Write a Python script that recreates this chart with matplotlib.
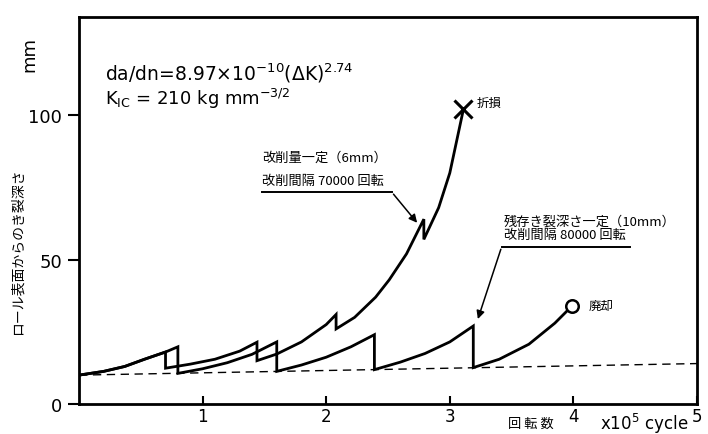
import matplotlib.pyplot as plt

plt.rcParams['font.family'] = ['DejaVu Sans', 'Noto Sans CJK JP']

# 改削量一定 (6mm), 改削間隔 70000 回転  (x: x10^5 cycle, y: mm)
c1_x = [0, 0.2, 0.37, 0.53, 0.7,
        0.7, 0.9, 1.1, 1.3, 1.44,
        1.44, 1.6, 1.8, 2.0, 2.08,
        2.08, 2.23, 2.4, 2.51, 2.65, 2.79,
        2.79, 2.91, 3.0, 3.05, 3.11]
c1_y = [10, 11.3, 13, 15.5, 18,
        12.4, 13.8, 15.5, 18.3, 21.4,
        15, 17.3, 21.5, 27.5, 31,
        26, 30, 37, 43, 52, 64,
        57, 68, 80, 90, 102]

# 残存き裂深さ一定 (10mm), 改削間隔 80000 回転
c2_x = [0, 0.2, 0.37, 0.53, 0.7, 0.8,
        0.8, 1.0, 1.2, 1.4, 1.6,
        1.6, 1.8, 2.0, 2.2, 2.39,
        2.39, 2.6, 2.8, 3.0, 3.19,
        3.19, 3.4, 3.64, 3.85, 3.99]
c2_y = [10, 11.3, 13, 15.5, 18, 19.8,
        10.6, 12.2, 14.3, 17.2, 21.5,
        11.3, 13.5, 16.2, 19.8, 24,
        11.9, 14.5, 17.5, 21.5, 27,
        12.6, 15.5, 20.7, 28, 34]

base_x = [0, 5]
base_y = [10, 14]

xticks = [1, 2, 3, 4, 5]
yticks = [0, 50, 100]

jp = ['Noto Sans CJK JP']

fig = plt.figure(figsize=(7.08, 4.35), dpi=100)
ax = fig.add_axes([79 / 708, 1 - 405 / 435, 618 / 708, 387 / 435])

ax.plot(base_x, base_y, color='black', lw=1.0, ls=(0, (6, 4)))
ax.plot(c1_x, c1_y, color='black', lw=2.0, solid_joinstyle='miter')
ax.plot(c2_x, c2_y, color='black', lw=2.0, solid_joinstyle='miter')

# 終点マーカー
ax.plot(c1_x[-1], c1_y[-1], marker='x', ms=13, mew=2.2, color='black')
ax.plot(c2_x[-1], c2_y[-1], marker='o', ms=9, mew=1.8, mfc='white', mec='black')
ax.text(3.22, 104.5, '折損', fontsize=9, va='center', family=jp)
ax.text(4.12, 34, '廃却', fontsize=9, va='center', family=jp)

# 注記 1
ax.text(1.48, 85.5, '改削量一定（6mm）', fontsize=9.5, va='center', family=jp)
ax.text(1.48, 77.3, '改削間隔 70000 回転', fontsize=9.5, va='center', family=jp)
ax.plot([1.48, 2.53], [73.4, 73.4], color='black', lw=1.4)
ax.annotate('', xy=(2.75, 62), xytext=(2.53, 73.4),
            arrowprops=dict(arrowstyle='-|>', color='black', lw=1.1, mutation_scale=12))

# 注記 2
ax.text(3.44, 63.5, '残存き裂深さ一定（10mm）', fontsize=9.5, va='center', family=jp)
ax.text(3.44, 58.8, '改削間隔 80000 回転', fontsize=9.5, va='center', family=jp)
ax.plot([3.42, 4.46], [54.5, 54.5], color='black', lw=1.4)
ax.annotate('', xy=(3.22, 28.5), xytext=(3.42, 54.5),
            arrowprops=dict(arrowstyle='-|>', color='black', lw=1.1, mutation_scale=12))

# 式
ax.text(0.21, 115, r'da/dn=8.97$\times$10$^{-10}$($\Delta$K)$^{2.74}$', fontsize=13.5, va='center')
ax.text(0.21, 106, r'K$_{\rm IC}$ = 210 kg mm$^{-3/2}$', fontsize=13, va='center')

ax.set_xlim(0, 5)
ax.set_ylim(0, 134)
ax.set_xticks(xticks)
ax.set_yticks(yticks)
ax.tick_params(axis='x', direction='in', length=6, width=1.5, labelsize=12, pad=2)
ax.tick_params(axis='y', direction='out', length=8, width=1.5, labelsize=13, pad=4)
for s in ax.spines.values():
    s.set_linewidth(2.0)

fig.text(18 / 708, 1 - 252 / 435, 'ロール表面からのき裂深さ', rotation=90, fontsize=10,
         ha='center', va='center', family=jp)
fig.text(29 / 708, 1 - 55 / 435, 'mm', rotation=90, fontsize=13, ha='center', va='center')
fig.text(531 / 708, 1 - 424 / 435, '回 転 数', fontsize=9.5, ha='center', va='center', family=jp)
fig.text(688 / 708, 1 - 424 / 435, r'x10$^5$ cycle', fontsize=12, ha='right', va='center')

fig.savefig('out.png', dpi=100)
